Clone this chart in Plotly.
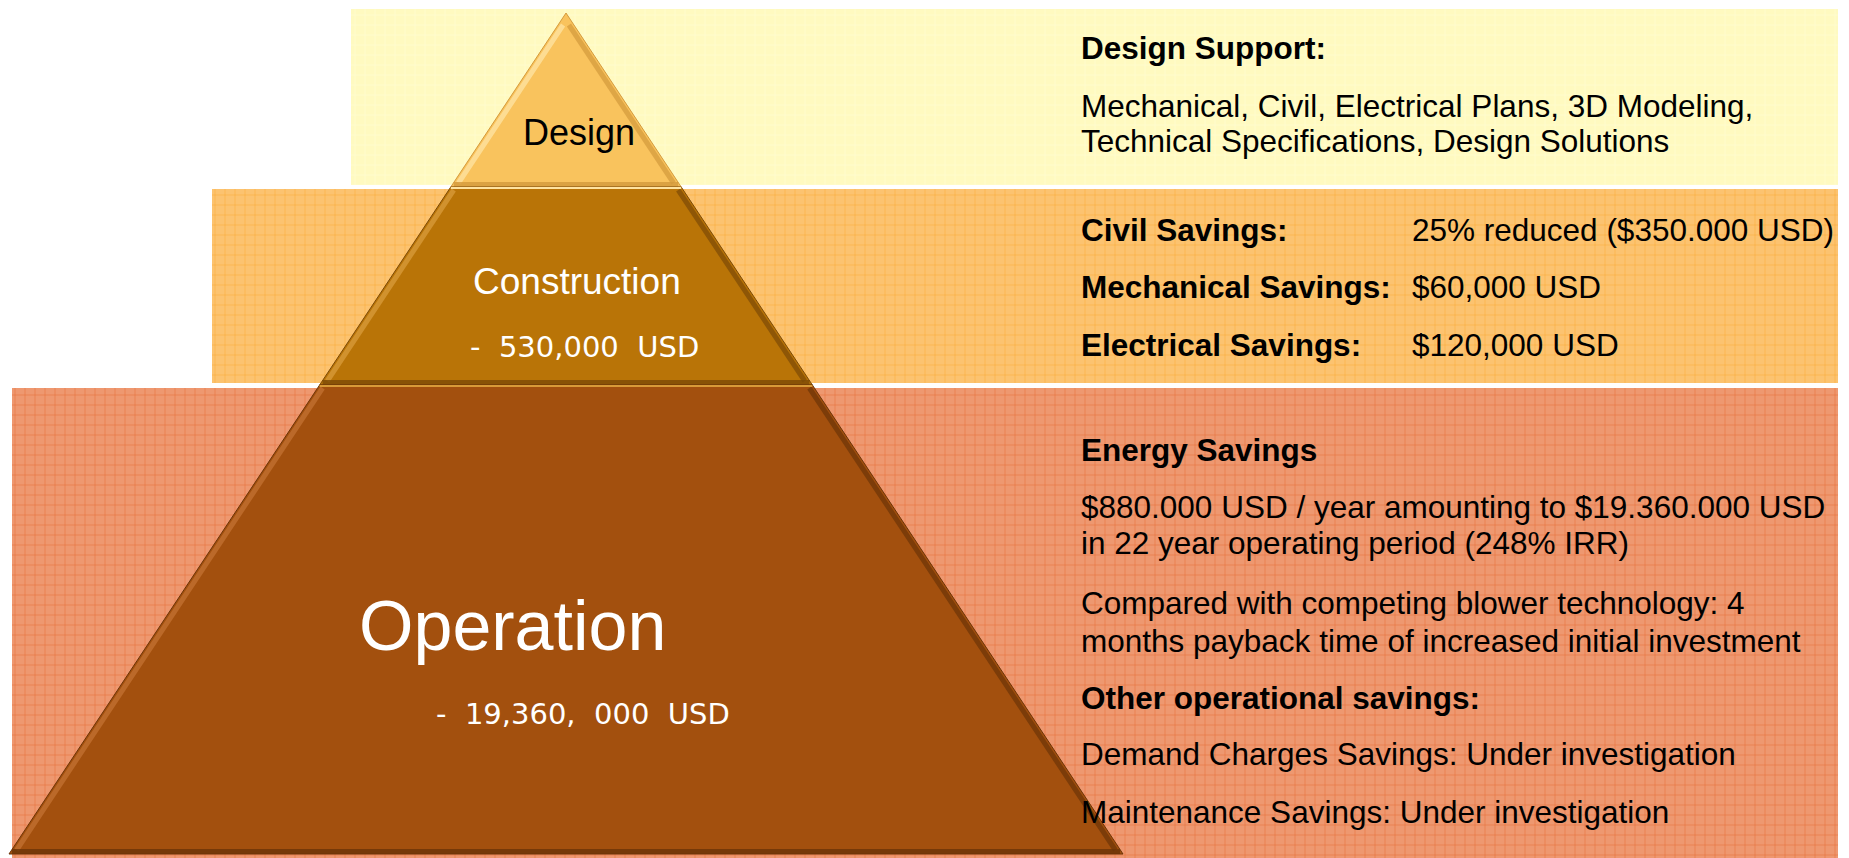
"""
Savings pyramid: Design / Construction / Operation with the notes for each level.
"""

import plotly.graph_objects as go

# ── Data ────────────────────────────────────────────────────────────────────
LEVELS = ["Design", "Construction", "Operation"]
LEVEL_COSTS = ["", "-\u00a0\u00a0530,000\u00a0\u00a0USD", "-\u00a0\u00a019,360,\u00a0\u00a0000\u00a0\u00a0USD"]

DESIGN_NOTES = [
    "Design Support:",
    "Mechanical, Civil, Electrical Plans, 3D Modeling,",
    "Technical Specifications, Design Solutions",
]
DESIGN_BOLD = [True, False, False]

SAVING_ITEMS = ["Civil Savings:", "Mechanical Savings:", "Electrical Savings:"]
SAVING_VALUES = ["25% reduced ($350.000 USD)", "$60,000 USD", "$120,000 USD"]

OPERATION_NOTES = [
    "Energy Savings",
    "$880.000 USD / year amounting to $19.360.000 USD",
    "in 22 year operating period (248% IRR)",
    "Compared with competing blower technology: 4",
    "months payback time of increased initial investment",
    "Other operational savings:",
    "Demand Charges Savings: Under investigation",
    "Maintenance Savings: Under investigation",
]
OPERATION_BOLD = [True, False, False, False, False, True, False, False]

# ── Layout (pixel space of the page) ────────────────────────────────────────
W, H = 1849, 858
APEX_X, APEX_Y = 566, 13
BASE_Y, BASE_HALF = 854, 557
LEVEL_TOP = [APEX_Y, 187, 385]
LEVEL_BOTTOM = [187, 385, BASE_Y]

BAND_X0 = [351, 212, 12]
BAND_Y0 = [9, 189, 388]
BAND_Y1 = [185, 383, 858]
BAND_X1 = 1838
BAND_BG = ["#FFFAC0", "#FCC370", "#EE9870"]
BAND_FG = ["#FFFFE4", "#F79E1C", "#E2561A"]

LEVEL_FILL = ["#F9C35D", "#B97407", "#A3500E"]
LEVEL_LIGHT = ["#FFE3A0", "#D89A38", "#C27030"]
LEVEL_DARK = ["#D49A3C", "#7C4A06", "#6C3407"]

LABEL_Y = [132, 281, 626]
LABEL_X = [579, 577, 512]
LABEL_SIZE = [36, 37, 70]
LABEL_COLOR = ["black", "white", "white"]
COST_X = [0, 584, 583]
COST_Y = [0, 347, 714]
COST_SIZE = 29

TEXT_X = 1079
VALUE_X = 1410
DESIGN_Y = [48, 106, 141]
SAVING_Y = [230, 287, 345]
OPERATION_Y = [450, 507, 543, 603, 641, 698, 754, 812]

TEXT_FONT = "Liberation Sans, Arial, sans-serif"
TEXT_SIZE = 31.5


def half_width(y):
    return BASE_HALF * (y - APEX_Y) / (BASE_Y - APEX_Y)


fig = go.Figure()

# Patterned background bands
for x0, y0, y1, bg, fg in zip(BAND_X0, BAND_Y0, BAND_Y1, BAND_BG, BAND_FG):
    fig.add_trace(go.Scatter(
        x=[x0, BAND_X1, BAND_X1, x0, x0],
        y=[y0, y0, y1, y1, y0],
        mode="lines", fill="toself", line=dict(width=0),
        fillcolor=bg,
        fillpattern=dict(shape="+", bgcolor=bg, fgcolor=fg, size=10, solidity=0.14),
        hoverinfo="skip", showlegend=False,
    ))

# Pyramid levels with a simple bevel
for i, name in enumerate(LEVELS):
    top, bot = LEVEL_TOP[i], LEVEL_BOTTOM[i]
    ht, hb = half_width(top), half_width(bot)
    fig.add_trace(go.Scatter(
        x=[APEX_X - ht, APEX_X + ht, APEX_X + hb, APEX_X - hb, APEX_X - ht],
        y=[top, top, bot, bot, top],
        mode="lines", fill="toself", fillcolor=LEVEL_FILL[i],
        line=dict(width=1, color=LEVEL_DARK[i]),
        hoverinfo="skip", showlegend=False,
    ))
    d = 5
    y_a = top + (12 if i == 0 else 3)
    y_b = bot - 4
    # left highlight
    fig.add_trace(go.Scatter(
        x=[APEX_X - half_width(y_a) + d, APEX_X - half_width(y_b) + d],
        y=[y_a, y_b], mode="lines",
        line=dict(width=5, color=LEVEL_LIGHT[i]), opacity=0.8,
        hoverinfo="skip", showlegend=False,
    ))
    # right shadow
    fig.add_trace(go.Scatter(
        x=[APEX_X + half_width(y_a) - d, APEX_X + half_width(y_b) - d],
        y=[y_a, y_b], mode="lines",
        line=dict(width=5, color=LEVEL_DARK[i]), opacity=0.7,
        hoverinfo="skip", showlegend=False,
    ))
    # bottom edge shadow
    fig.add_trace(go.Scatter(
        x=[APEX_X - half_width(bot) + 3, APEX_X + half_width(bot) - 3],
        y=[bot - 2.5, bot - 2.5], mode="lines",
        line=dict(width=5, color=LEVEL_DARK[i]), opacity=0.8,
        hoverinfo="skip", showlegend=False,
    ))
    # top edge highlight
    if i > 0:
        fig.add_trace(go.Scatter(
            x=[APEX_X - half_width(top), APEX_X + half_width(top)],
            y=[top + 1, top + 1], mode="lines",
            line=dict(width=2, color=LEVEL_LIGHT[i - 1]),
            hoverinfo="skip", showlegend=False,
        ))

annotations = []


def add_text(x, y, text, size, color="black", bold=False, family=TEXT_FONT, xanchor="left"):
    annotations.append(dict(
        x=x, y=y, xref="x", yref="y", text=f"<b>{text}</b>" if bold else text,
        showarrow=False, xanchor=xanchor, yanchor="middle",
        font=dict(family=family, size=size, color=color),
    ))


for i, name in enumerate(LEVELS):
    add_text(LABEL_X[i], LABEL_Y[i], name, LABEL_SIZE[i], LABEL_COLOR[i], xanchor="center")
    if LEVEL_COSTS[i]:
        add_text(COST_X[i], COST_Y[i], LEVEL_COSTS[i], COST_SIZE, "white",
                 family="DejaVu Sans, Verdana, sans-serif", xanchor="center")

for txt, bold, y in zip(DESIGN_NOTES, DESIGN_BOLD, DESIGN_Y):
    add_text(TEXT_X, y, txt, TEXT_SIZE, bold=bold)

for item, value, y in zip(SAVING_ITEMS, SAVING_VALUES, SAVING_Y):
    add_text(TEXT_X, y, item, TEXT_SIZE, bold=True)
    add_text(VALUE_X, y, value, TEXT_SIZE)

for txt, bold, y in zip(OPERATION_NOTES, OPERATION_BOLD, OPERATION_Y):
    add_text(TEXT_X, y, txt, TEXT_SIZE, bold=bold)

fig.update_layout(
    width=W, height=H,
    margin=dict(l=0, r=0, t=0, b=0),
    plot_bgcolor="white", paper_bgcolor="white",
    xaxis=dict(range=[0, W], visible=False, fixedrange=True),
    yaxis=dict(range=[H, 0], visible=False, fixedrange=True),
    annotations=annotations,
    showlegend=False,
)

fig.write_html(
    "out.html",
    config={"displayModeBar": False},
    post_script="document.body.style.margin='0';document.body.style.overflow='hidden';",
)
